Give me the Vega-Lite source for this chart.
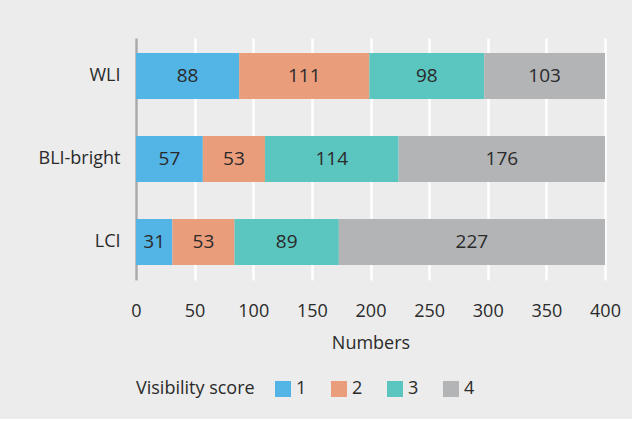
{
  "$schema": "https://vega.github.io/schema/vega-lite/v6.json",
  "background": "#ebeceb",
  "padding": {"left": 0, "top": 38, "right": 11, "bottom": 21},
  "width": 469,
  "height": 242,
  "data": {"values": [
    {"method": "WLI", "score": "1", "n": 88},
    {"method": "WLI", "score": "2", "n": 111},
    {"method": "WLI", "score": "3", "n": 98},
    {"method": "WLI", "score": "4", "n": 103},
    {"method": "BLI-bright", "score": "1", "n": 57},
    {"method": "BLI-bright", "score": "2", "n": 53},
    {"method": "BLI-bright", "score": "3", "n": 114},
    {"method": "BLI-bright", "score": "4", "n": 176},
    {"method": "LCI", "score": "1", "n": 31},
    {"method": "LCI", "score": "2", "n": 53},
    {"method": "LCI", "score": "3", "n": 89},
    {"method": "LCI", "score": "4", "n": 227}
  ]},
  "transform": [
    {"stack": "n", "groupby": ["method"], "sort": [{"field": "score", "order": "ascending"}], "as": ["x0", "x1"]},
    {"calculate": "(datum.x0 + datum.x1) / 2", "as": "mid"}
  ],
  "encoding": {
    "y": {
      "field": "method", "type": "nominal", "sort": ["WLI", "BLI-bright", "LCI"],
      "scale": {"paddingInner": 0.446, "paddingOuter": 0.18},
      "axis": {"title": null, "ticks": false, "domain": true, "domainColor": "#a8a8a8", "domainWidth": 2.5,
               "labelFontSize": 18, "labelColor": "#2a2a2a", "labelPadding": 16, "minExtent": 136, "maxExtent": 136, "grid": false}
    }
  },
  "layer": [
    {
      "mark": {"type": "bar"},
      "encoding": {
        "x": {"field": "x0", "type": "quantitative",
              "scale": {"domain": [0, 400], "nice": false},
              "axis": {"title": "Numbers", "values": [0, 50, 100, 150, 200, 250, 300, 350, 400], "labelFlush": false,
                       "domain": false, "ticks": false, "grid": true, "gridColor": "#ffffff", "gridWidth": 2.5, "gridOpacity": 1,
                       "labelFontSize": 18, "labelColor": "#2a2a2a", "labelPadding": 22,
                       "titleFontSize": 18, "titleFontWeight": "normal", "titleColor": "#2a2a2a", "titlePadding": 14}},
        "x2": {"field": "x1"},
        "color": {"field": "score", "type": "nominal",
                  "scale": {"domain": ["1", "2", "3", "4"], "range": ["#53b4e6", "#ea9d7b", "#5bc5bf", "#b3b4b6"]},
                  "legend": {"title": "Visibility score", "orient": "bottom", "direction": "horizontal", "titleOrient": "left",
                             "symbolType": "square", "symbolSize": 256, "symbolStrokeWidth": 0, "symbolOpacity": 1,
                             "labelFontSize": 18, "titleFontSize": 18, "titleFontWeight": "normal", "titleColor": "#2a2a2a", "labelColor": "#2a2a2a",
                             "columnPadding": 23, "titlePadding": 19, "labelOffset": 4, "offset": 28}}
      }
    },
    {
      "mark": {"type": "text", "fontSize": 19, "fontWeight": 500, "color": "#2a2a2a", "baseline": "middle", "align": "center"},
      "encoding": {
        "x": {"field": "mid", "type": "quantitative"},
        "text": {"field": "n", "type": "quantitative"}
      }
    }
  ],
  "config": {
    "font": "Open Sans",
    "view": {"stroke": null}
  }
}
